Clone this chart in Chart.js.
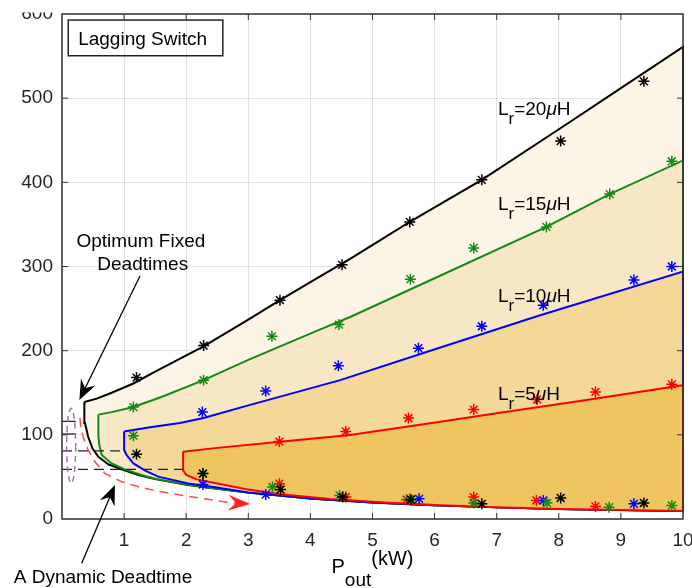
<!DOCTYPE html>
<html>
<head>
<meta charset="utf-8">
<script src="https://cdn.jsdelivr.net/npm/chart.js@4.4.1/dist/chart.umd.min.js"></script>
<style>
  body { margin: 0; background: #fff; }
  #wrap { width: 692px; height: 588px; }
</style>
</head>
<body>
<div id="wrap"><canvas id="chart" width="692" height="588"></canvas></div>
<script>
// tick labels
const xTickValues = [0, 1, 2, 3, 4, 5, 6, 7, 8, 9, 10];
const yTickValues = [0, 100, 200, 300, 400, 500, 600];

// Lr = 20uH boundary
const lr20UpperX = [0.36, 0.56, 0.8, 1.15, 1.5, 2.28, 3.0, 3.51, 4.15, 4.64, 5.6, 6.76, 8.02, 9.0, 10];
const lr20UpperY = [139, 143, 150, 161, 175, 205, 237, 260, 288, 309, 353, 403, 464, 512, 561];
const lr20LowerX = [0.36, 0.36, 0.37, 0.42, 0.49, 0.585, 0.745, 0.96, 1.23, 1.5, 2.03, 2.5, 3.0, 3.5, 4.0, 4.5, 5.0, 6.0, 7.0, 8.0, 9.0, 10];
const lr20LowerY = [139, 126, 114, 98, 84, 74, 65, 59, 52.3, 47.5, 40.5, 36, 31.5, 28, 24.5, 22, 19.5, 16.4, 13.9, 11.9, 10.7, 9.5];

// Lr = 15uH boundary
const lr15UpperX = [0.585, 0.8, 1.15, 1.6, 2.28, 3.0, 4.15, 4.64, 6.0, 7.8, 8.82, 10];
const lr15UpperY = [124, 127, 133, 145, 165, 189, 225, 240, 286, 347, 386, 426];
const lr15LowerX = [0.585, 0.585, 0.6, 0.64, 0.8, 1.01, 1.28, 1.5, 2.03, 2.5, 3.0, 3.5, 4.0, 4.5, 5.0, 6.0, 7.0, 8.0, 9.0, 10];
const lr15LowerY = [124, 100, 88, 76, 66, 59, 52.3, 47.8, 40.8, 36, 31.5, 28, 24.5, 22, 19.5, 16.4, 13.9, 11.9, 10.7, 9.5];

// Lr = 10uH boundary
const lr10UpperX = [1.0, 1.42, 1.9, 2.28, 3.0, 4.48, 5.98, 7.7, 10];
const lr10UpperY = [104, 109, 114, 120, 135, 165, 201, 242, 294];
const lr10LowerX = [1.0, 1.0, 1.04, 1.15, 1.34, 1.55, 2.03, 2.44, 3.0, 3.5, 4.0, 4.5, 5.0, 6.0, 7.0, 8.0, 9.0, 10];
const lr10LowerY = [104, 82, 76, 66, 57.4, 50.3, 42.2, 38, 31.5, 28, 24.5, 22, 19.5, 16.4, 13.9, 11.9, 10.7, 9.5];

// Lr = 5uH boundary
const lr5UpperX = [1.95, 2.5, 3.51, 4.64, 6.09, 7.0, 8.5, 10];
const lr5UpperY = [80, 84.5, 91.8, 99.8, 115.6, 125.6, 142, 159];
const lr5LowerX = [1.95, 1.95, 2.0, 2.17, 2.44, 2.97, 3.51, 4.32, 5.12, 6.09, 7.0, 8.02, 9.02, 10];
const lr5LowerY = [80, 58, 52.3, 47.1, 43, 35.3, 29.5, 23.8, 19.8, 16.2, 13.9, 11.9, 10.7, 9.5];

// measured points (asterisks)
const lr20MarkX = [1.2, 1.2, 2.28, 2.27, 3.51, 3.52, 4.51, 4.52, 5.6, 5.62, 6.76, 6.76, 8.03, 8.03, 9.37, 9.37];
const lr20MarkY = [168, 77, 206, 54, 260, 35, 302, 26, 353, 23, 403, 18, 449, 25, 520, 19];
const lr15MarkX = [1.15, 1.15, 2.28, 2.27, 3.38, 3.39, 4.46, 4.47, 5.61, 5.6, 6.63, 6.63, 7.8, 7.81, 8.82, 8.81, 9.82, 9.82];
const lr15MarkY = [133, 99, 165, 54, 217, 38, 231, 28, 285, 24, 322, 19, 347, 19, 386, 14, 425, 16];
const lr10MarkX = [2.26, 2.27, 3.28, 3.28, 4.45, 5.74, 5.75, 6.76, 7.75, 7.75, 9.21, 9.21, 9.82];
const lr10MarkY = [127, 41, 152, 29, 182, 203, 24, 229, 254, 22, 284, 18, 300];
const lr5MarkX = [3.5, 3.5, 4.57, 4.57, 5.58, 5.55, 6.63, 6.63, 7.65, 7.64, 8.59, 8.59, 9.82];
const lr5MarkY = [92, 42, 104, 26, 120, 23, 130, 26, 142, 22, 151, 15, 160];

// dynamic deadtime path (red dashed) and fixed deadtime guides
const dynX = [0.29, 0.3, 0.34, 0.42, 0.53, 0.69, 0.96, 1.23, 1.5, 1.9, 2.25, 2.7, 2.88];
const dynY = [120, 110, 97.8, 82, 68, 54.3, 44.3, 38.4, 33.6, 28.5, 24.6, 19.4, 18.5];
const dynTip = [3.03, 17.8];
const guideY = [81, 59];
const guideEndX = [1.0, 1.95];
const shortGuideY = [116, 101];
const shortGuideEndX = [0.22, 0.22];

const lrNames = ['20', '15', '10', '5'];

const FONT = "'Liberation Sans', Arial, Helvetica, sans-serif";
const GREEN = 'rgb(20,138,20)';

const pts = (xs, ys) => xs.map((x, i) => ({ x, y: ys[i] }));
// closed outline: upper edge left->right, then back along the lower edge
const region = (ux, uy, lx, ly) => pts(ux, uy).concat(pts(lx, ly).reverse());

const regionSet = (data, color, fillColor, order) => ({
  data,
  borderColor: color,
  borderWidth: 2,
  backgroundColor: fillColor,
  fill: 'shape',
  pointRadius: 0,
  order,
  clip: 6,
});

const markSet = (data, color, order) => ({
  data,
  showLine: false,
  pointStyle: 'star',
  pointRadius: 5.5,
  pointBorderWidth: 1.5,
  pointBorderColor: color,
  pointBackgroundColor: color,
  order,
  clip: 8,
});

const guideSet = (data, dash, color, width) => ({
  data,
  borderColor: color,
  borderWidth: width,
  borderDash: dash,
  pointRadius: 0,
  fill: false,
  order: 5,
});

const datasets = [
  regionSet(region(lr20UpperX, lr20UpperY, lr20LowerX, lr20LowerY), '#000', '#fcf5e6', 40),
  regionSet(region(lr15UpperX, lr15UpperY, lr15LowerX, lr15LowerY), GREEN, '#f8e7c4', 30),
  regionSet(region(lr10UpperX, lr10UpperY, lr10LowerX, lr10LowerY), '#0000ff', '#f4d898', 20),
  regionSet(region(lr5UpperX, lr5UpperY, lr5LowerX, lr5LowerY), '#ff0000', '#efc560', 10),
  markSet(pts(lr5MarkX, lr5MarkY), '#ff0000', 3),
  markSet(pts(lr10MarkX, lr10MarkY), '#0000ff', 2),
  markSet(pts(lr15MarkX, lr15MarkY), GREEN, 1),
  markSet(pts(lr20MarkX, lr20MarkY), '#000', 0),
  guideSet(pts(dynX, dynY), [9, 6], '#ff4d4d', 1.5),
];
guideY.forEach((v, i) => datasets.push(guideSet([{ x: 0, y: v }, { x: guideEndX[i], y: v }], [10, 6], '#222', 1.3)));
shortGuideY.forEach((v, i) => datasets.push(guideSet([{ x: 0, y: v }, { x: shortGuideEndX[i], y: v }], [], '#222', 1.3)));

function arrowHead(ctx, x1, y1, x2, y2, len, half, color) {
  const a = Math.atan2(y2 - y1, x2 - x1);
  const c = Math.cos(a), s = Math.sin(a);
  ctx.fillStyle = color;
  ctx.beginPath();
  ctx.moveTo(x2, y2);
  ctx.lineTo(x2 - len * c + half * s, y2 - len * s - half * c);
  ctx.lineTo(x2 - 0.65 * len * c, y2 - 0.65 * len * s);
  ctx.lineTo(x2 - len * c - half * s, y2 - len * s + half * c);
  ctx.closePath();
  ctx.fill();
}

function arrow(ctx, x1, y1, x2, y2, color) {
  const a = Math.atan2(y2 - y1, x2 - x1);
  ctx.strokeStyle = color;
  ctx.lineWidth = 1.3;
  ctx.setLineDash([]);
  ctx.beginPath();
  ctx.moveTo(x1, y1);
  ctx.lineTo(x2 - 10 * Math.cos(a), y2 - 10 * Math.sin(a));
  ctx.stroke();
  arrowHead(ctx, x1, y1, x2, y2, 20, 8, color);
}

function textRuns(ctx, x0, y0, parts) {
  let xx = x0;
  parts.forEach(([t, font, dy]) => {
    ctx.font = font;
    ctx.fillText(t, xx, y0 + dy);
    xx += ctx.measureText(t).width;
  });
}

const annotations = {
  id: 'annotations',
  afterDraw(chart) {
    const { ctx, chartArea: a, scales: { x, y } } = chart;
    const X = v => x.getPixelForValue(v);
    const Y = v => y.getPixelForValue(v);
    ctx.save();

    // hide the top of the clipped "600" label like the source figure
    ctx.fillStyle = '#fff';
    ctx.fillRect(0, 0, a.left - 2, 12.5);

    // box and inward ticks
    ctx.strokeStyle = '#333';
    ctx.lineWidth = 1;
    ctx.beginPath();
    xTickValues.slice(1, -1).forEach(v => {
      ctx.moveTo(X(v), a.bottom); ctx.lineTo(X(v), a.bottom - 6);
      ctx.moveTo(X(v), a.top); ctx.lineTo(X(v), a.top + 6);
    });
    yTickValues.slice(1, -1).forEach(v => {
      ctx.moveTo(a.left, Y(v)); ctx.lineTo(a.left + 6, Y(v));
      ctx.moveTo(a.right, Y(v)); ctx.lineTo(a.right - 6, Y(v));
    });
    ctx.stroke();
    ctx.lineWidth = 1.5;
    ctx.strokeRect(a.left, a.top, a.right - a.left, a.bottom - a.top);

    // dashed ellipse around the fixed deadtime levels
    ctx.strokeStyle = '#a862c8';
    ctx.lineWidth = 1.4;
    ctx.setLineDash([6, 4]);
    ctx.beginPath();
    ctx.ellipse((X(0.075) + X(0.22)) / 2, (Y(42.5) + Y(131.5)) / 2,
      (X(0.22) - X(0.075)) / 2, (Y(42.5) - Y(131.5)) / 2, 0, 0, Math.PI * 2);
    ctx.stroke();
    ctx.setLineDash([]);

    // red arrow head at the end of the dynamic path
    arrowHead(ctx, X(dynX[dynX.length - 1]), Y(dynY[dynY.length - 1]), X(dynTip[0]), Y(dynTip[1]), 22, 8, '#ff2020');

    // black call-out arrows
    arrow(ctx, X(1.256), Y(288.7), X(0.28), Y(141.5), '#000');
    arrow(ctx, X(0.317), Y(-52.6), X(0.853), Y(40.4), '#000');

    ctx.fillStyle = '#000';
    ctx.textBaseline = 'alphabetic';

    // "Lagging Switch" box
    ctx.strokeStyle = '#222';
    ctx.lineWidth = 1.5;
    ctx.strokeRect(X(0.1), Y(592.8), X(2.59) - X(0.1), Y(550.4) - Y(592.8));
    ctx.font = '19px ' + FONT;
    ctx.textAlign = 'left';
    ctx.fillText('Lagging Switch', X(0.26), Y(571) + 7);

    // Lr labels
    const lrY = [480, 367, 258, 141];
    lrNames.forEach((n, i) => {
      textRuns(ctx, X(7.02), Y(lrY[i]), [
        ['L', '19px ' + FONT, 0],
        ['r', '17px ' + FONT, 9],
        ['=' + n, '19px ' + FONT, 0],
        ['\u03bc', 'italic 19px ' + FONT, 0],
        ['H', '19px ' + FONT, 0],
      ]);
    });

    // call-out texts
    ctx.textAlign = 'center';
    ctx.font = '19px ' + FONT;
    ctx.fillText('Optimum Fixed', X(1.27), Y(331.5) + 7);
    ctx.fillText('Deadtimes', X(1.3), Y(303.8) + 7);
    ctx.fillText('A Dynamic Deadtime', X(0.66), Y(-76.4));

    // x axis title with subscript
    ctx.textAlign = 'left';
    textRuns(ctx, X(4.34), Y(-63.8), [
      ['P', '20px ' + FONT, 0],
      ['out', '19px ' + FONT, 13],
      ['(kW)', '20px ' + FONT, -8],
    ]);
    ctx.restore();
  },
};

new Chart(document.getElementById('chart'), {
  type: 'line',
  data: { datasets },
  options: {
    responsive: false,
    animation: false,
    layout: { padding: { top: 14, right: 9, left: 0, bottom: 0 } },
    plugins: {
      legend: { display: false },
      tooltip: { enabled: false },
    },
    elements: { line: { tension: 0 } },
    scales: {
      x: {
        type: 'linear',
        min: 0,
        max: 10,
        z: 1,
        afterBuildTicks: (scale) => { scale.ticks = xTickValues.map(value => ({ value })); },
        afterFit: (scale) => { scale.height = 69; scale.paddingLeft = 0; scale.paddingRight = 0; },
        grid: { color: 'rgba(0,0,0,0.11)', drawTicks: false },
        border: { display: false },
        ticks: {
          padding: 10,
          color: '#262626',
          font: { family: FONT, size: 19 },
          maxRotation: 0,
          autoSkip: false,
          callback: (v) => (v === 0 ? '' : v),
        },
      },
      y: {
        min: 0,
        max: 600,
        z: 1,
        afterBuildTicks: (scale) => { scale.ticks = yTickValues.map(value => ({ value })); },
        afterFit: (scale) => { scale.width = 62; scale.paddingTop = 0; scale.paddingBottom = 0; },
        grid: { color: 'rgba(0,0,0,0.11)', drawTicks: false },
        border: { display: false },
        ticks: {
          padding: 9,
          color: '#262626',
          font: { family: FONT, size: 19 },
          autoSkip: false,
        },
      },
    },
  },
  plugins: [annotations],
});
</script>
</body>
</html>
